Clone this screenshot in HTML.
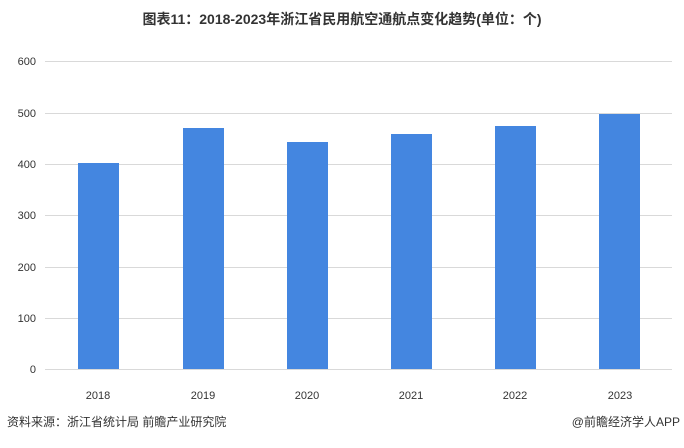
<!DOCTYPE html>
<html><head><meta charset="utf-8"><style>
body{margin:0;width:684px;height:443px;background:#fff;overflow:hidden;font-family:"Liberation Sans","Noto Sans CJK SC",sans-serif;}
</style></head><body>
<svg width="684" height="443" xmlns="http://www.w3.org/2000/svg" font-family="Liberation Sans, Noto Sans CJK SC, sans-serif">
<text x="342" y="24" text-anchor="middle" font-size="14" font-weight="bold" fill="#333">图表11：2018-2023年浙江省民用航空通航点变化趋势(单位：个)</text>
<g stroke="#d9d9d9" stroke-width="1">
<line x1="45" x2="672" y1="61.5" y2="61.5"/>
<line x1="45" x2="672" y1="113.5" y2="113.5"/>
<line x1="45" x2="672" y1="164.5" y2="164.5"/>
<line x1="45" x2="672" y1="215.5" y2="215.5"/>
<line x1="45" x2="672" y1="267.5" y2="267.5"/>
<line x1="45" x2="672" y1="318.5" y2="318.5"/>
<line x1="45" x2="672" y1="369.5" y2="369.5"/>
</g>
<g font-size="11" fill="#333" text-anchor="end">
<text x="36" y="65">600</text><text x="36" y="117">500</text><text x="36" y="168">400</text>
<text x="36" y="219">300</text><text x="36" y="271">200</text><text x="36" y="322">100</text><text x="36" y="373">0</text>
</g>
<g fill="#4486e0">
<rect x="78" y="163" width="41" height="206"/>
<rect x="183" y="128" width="41" height="241"/>
<rect x="287" y="142" width="41" height="227"/>
<rect x="391" y="134" width="41" height="235"/>
<rect x="495" y="126" width="41" height="243"/>
<rect x="599" y="114" width="41" height="255"/>
</g>
<g font-size="11" fill="#333" text-anchor="middle">
<text x="98" y="399">2018</text><text x="203" y="399">2019</text><text x="307" y="399">2020</text>
<text x="411" y="399">2021</text><text x="515" y="399">2022</text><text x="620" y="399">2023</text>
</g>
<text x="7" y="426" font-size="12" fill="#333">资料来源：浙江省统计局 前瞻产业研究院</text>
<text x="680" y="426" font-size="12" fill="#333" text-anchor="end">@前瞻经济学人APP</text>
</svg>
</body></html>
